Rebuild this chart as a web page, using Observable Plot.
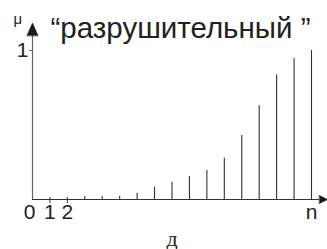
<!DOCTYPE html>
<html>
<head>
<meta charset="utf-8">
<script src="https://cdn.jsdelivr.net/npm/d3@7"></script>
<script src="https://cdn.jsdelivr.net/npm/@observablehq/plot@0.6"></script>
<style>
  html, body { margin: 0; padding: 0; background: #fff; }
</style>
</head>
<body>
<div id="chart"></div>
<script>
// ---- data ----
const positions = [1, 2, 3, 4, 5, 6, 7, 8, 9, 10, 11, 12, 13, 14, 15, 16];
const mu = [0.012, 0.012, 0.02, 0.02, 0.022, 0.042, 0.083, 0.114, 0.154, 0.195, 0.277, 0.43, 0.63, 0.837, 0.946, 1.0];
const xTickValues = [1, 2, 16];
const xTickLabels = ["1", "2", "n"];
const originLabel = ["0"];
const yTickValues = [1];
const titleText = "“разрушительный ”";
const yLabel = "μ";
const xLabel = "д";

// ---- layout ----
const W = 327, H = 249, mL = 32, mR = 16, mT = 50, mB = 50;
const xDomain = [0, 16], yDomain = [0, 1];
const pxX = (W - mL - mR) / (xDomain[1] - xDomain[0]);
const pxY = (H - mT - mB) / (yDomain[1] - yDomain[0]);
const xAxisEnd = 16 + 8 / pxX;
const yAxisEnd = 1 + 15 / pxY;

const data = positions.map((p, i) => ({ n: p, mu: mu[i] }));

// arrowhead outlines (pixel sizes converted to data units)
const yArrow = [
  { x: -5.5 / pxX, y: yAxisEnd },
  { x: 0, y: yAxisEnd + 12.5 / pxY },
  { x: 5.5 / pxX, y: yAxisEnd }
];
const xArrow = [
  { x: xAxisEnd, y: 4 / pxY },
  { x: xAxisEnd + 8 / pxX, y: 0 },
  { x: xAxisEnd, y: -4 / pxY }
];

const chart = Plot.plot({
  width: W,
  height: H,
  marginLeft: mL,
  marginRight: mR,
  marginTop: mT,
  marginBottom: mB,
  style: { fontFamily: "'Liberation Sans', Arial, sans-serif", background: "#fff", color: "#222", overflow: "visible" },
  x: { domain: xDomain },
  y: { domain: yDomain },
  marks: [
    Plot.ruleX(data, { x: "n", y1: 0, y2: "mu", stroke: "#333", strokeWidth: 1.1 }),
    Plot.ruleX([0], { y1: 0, y2: yAxisEnd, stroke: "#666", strokeWidth: 1.2 }),
    Plot.line(yArrow, { x: "x", y: "y", fill: "#1a1a1a", stroke: "#1a1a1a", strokeWidth: 0.6, curve: "linear-closed" }),
    Plot.ruleY([0], { x1: 0, x2: xAxisEnd, stroke: "#333", strokeWidth: 1.2 }),
    Plot.line(xArrow, { x: "x", y: "y", fill: "#1a1a1a", stroke: "#1a1a1a", strokeWidth: 0.6, curve: "linear-closed" }),
    Plot.axisX({ ticks: [1, 2], tickSize: 4, tickFormat: () => "", stroke: "#333", label: null }),
    Plot.axisX({
      ticks: xTickValues, tickSize: 0, tickPadding: 5, fontSize: 21, fill: "#222",
      tickFormat: d => xTickLabels[xTickValues.indexOf(d)], label: null
    }),
    Plot.text(originLabel, { x: 0, y: 0, text: d => d, dx: -3, dy: 5, lineAnchor: "top", fontSize: 21, fill: "#222" }),
    Plot.axisY({
      ticks: yTickValues, tickSize: 3, tickPadding: 1, fontSize: 21, fill: "#222", stroke: "#666",
      tickFormat: d => String(d), label: null
    }),
    Plot.text([titleText], { text: d => d, frameAnchor: "top-left", dx: 18, dy: -13, textAnchor: "start", lineAnchor: "bottom", fontSize: 29.5, fill: "#222" }),
    Plot.text([yLabel], { text: d => d, frameAnchor: "top-left", dx: -19, dy: -27, textAnchor: "start", lineAnchor: "bottom", fontSize: 15, fill: "#222" }),
    Plot.text([xLabel], { text: d => d, frameAnchor: "bottom", dy: 46, lineAnchor: "bottom", fontSize: 22, fontFamily: "'Liberation Serif', 'Times New Roman', serif", fill: "#222" })
  ]
});

document.getElementById("chart").appendChild(chart);
</script>
</body>
</html>
